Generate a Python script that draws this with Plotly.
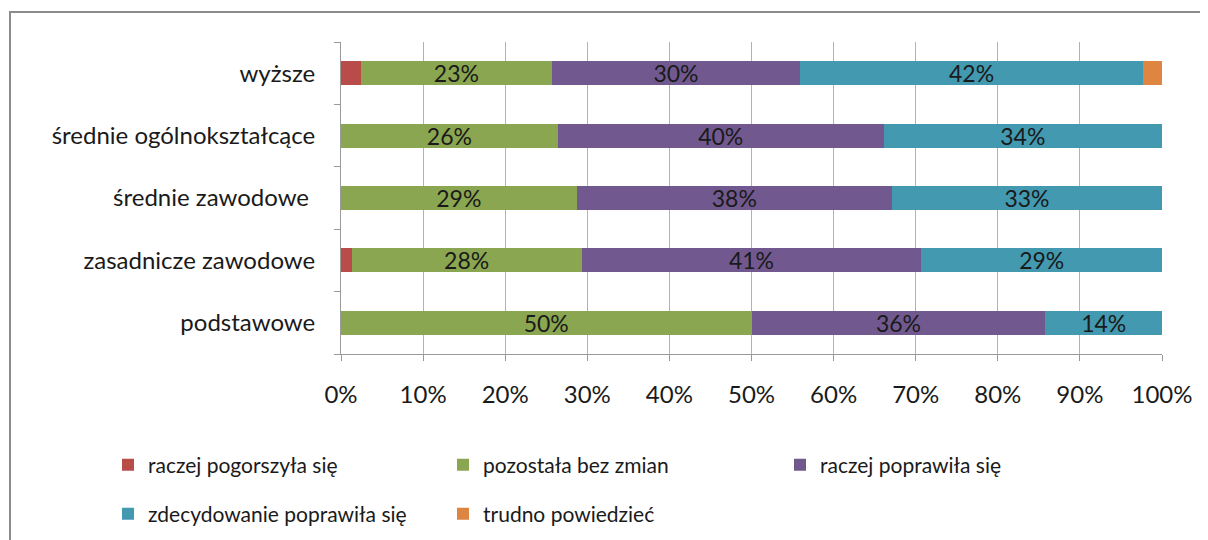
import plotly.graph_objects as go

categories = ["podstawowe", "zasadnicze zawodowe", "średnie zawodowe ", "średnie ogólnokształcące", "wyższe"]
series_names = ["raczej pogorszyła się", "pozostała bez zmian", "raczej poprawiła się",
                "zdecydowanie poprawiła się", "trudno powiedzieć"]
pogorszyla = [0.0, 1.3, 0.0, 0.0, 2.4]
bez_zmian = [50.0, 28.0, 28.7, 26.4, 23.3]
poprawila = [35.8, 41.4, 38.4, 39.7, 30.2]
zdecydowanie = [14.2, 29.3, 32.9, 33.9, 41.8]
trudno = [0.0, 0.0, 0.0, 0.0, 2.3]
x_ticks = [0, 10, 20, 30, 40, 50, 60, 70, 80, 90, 100]
x_tick_labels = [f"{v}%" for v in x_ticks]

series_values = [pogorszyla, bez_zmian, poprawila, zdecydowanie, trudno]
colors = ["#B84C48", "#8BA650", "#71598F", "#4299B0", "#DD8541"]
show_labels = [False, True, True, True, False]
legend_ids = ["legend", "legend", "legend3", "legend2", "legend2"]

FONT = "Lato, 'Open Sans', sans-serif"

fig = go.Figure()
for name, vals, col, lab, lg in zip(series_names, series_values, colors, show_labels, legend_ids):
    fig.add_trace(go.Bar(
        y=categories, x=vals, name=name, orientation="h",
        marker=dict(color=col, line=dict(width=0)),
        texttemplate="%{x:.0f}%" if lab else "",
        textposition="inside" if lab else "none",
        insidetextanchor="middle",
        constraintext="none",
        textfont=dict(size=23, color="#1a1a1a", family=FONT),
        hoverinfo="x+name",
        legend=lg,
    ))

# page has an 8px body offset; figure sized so the plot lands where the reference has it
W, H = 1200, 532
L, R, T, B = 333, 46, 34, 186
pw, ph = W - L - R, H - T - B
COL = 336  # legend column pitch
LX = 100   # legend left edge

legend_common = dict(
    orientation="h",
    xref="container", yref="container",
    xanchor="left", yanchor="middle",
    entrywidth=COL - 46, entrywidthmode="pixels",
    font=dict(size=21, family=FONT, color="#1a1a1a"),
    traceorder="normal",
    itemclick=False, itemdoubleclick=False,
    bgcolor="rgba(0,0,0,0)",
)

fig.update_layout(
    barmode="stack",
    bargap=0.615,
    width=W, height=H,
    margin=dict(l=L, r=R, t=T, b=B, pad=0, autoexpand=False),
    paper_bgcolor="white", plot_bgcolor="white",
    font=dict(family=FONT, size=20, color="#1a1a1a"),
    xaxis=dict(
        range=[0, 100], tickvals=x_ticks, ticktext=x_tick_labels,
        showgrid=True, gridcolor="#b3b3b3", gridwidth=1,
        showline=True, linecolor="#9a9a9a", linewidth=1,
        ticks="outside", ticklen=6, tickcolor="#9a9a9a",
        ticklabelstandoff=13,
        tickfont=dict(size=24, family=FONT, color="#1a1a1a"),
        zeroline=False, fixedrange=True, automargin=False,
    ),
    yaxis=dict(
        showline=True, linecolor="#9a9a9a", linewidth=1,
        ticks="outside", ticklen=6, tickcolor="#9a9a9a",
        tickson="boundaries", ticklabelstandoff=20,
        tickfont=dict(size=24, family=FONT, color="#1a1a1a"),
        showgrid=False, fixedrange=True, automargin=False,
    ),
    legend=dict(legend_common, x=LX / W, y=1 - 457 / H),
    legend3=dict(legend_common, x=(LX + 2 * COL) / W, y=1 - 457 / H),
    legend2=dict(legend_common, x=LX / W, y=1 - 506 / H),
    showlegend=True,
)

# outer chart border (extends beyond the right and bottom edges)
fig.add_shape(
    type="rect", xref="paper", yref="paper",
    x0=(2 - L) / pw, x1=(1215 - L) / pw,
    y0=(H - B - 545) / ph, y1=(H - B - 4) / ph,
    line=dict(color="#8c8c8c", width=2), fillcolor="rgba(0,0,0,0)", layer="below",
)

fig.write_html("out.html")
